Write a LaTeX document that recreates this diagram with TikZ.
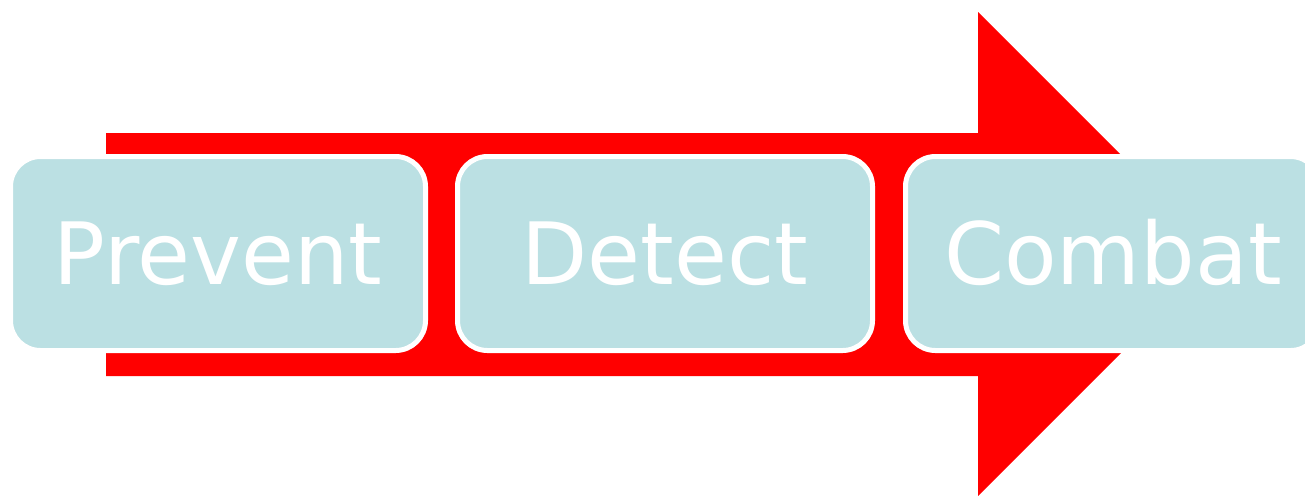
\documentclass[tikz,border=0pt]{standalone}
\usepackage{fontspec}
\setmainfont{DejaVu Sans}
\definecolor{boxfill}{RGB}{187,224,227}
\definecolor{arrowred}{RGB}{255,0,0}
\tikzset{
  stagebox/.style={draw=white, line width=2.5pt, fill=boxfill, rounded corners=15pt,
    minimum width=207.5pt, minimum height=97pt, inner sep=0pt,
    text=white, font=\fontsize{43}{50}\selectfont, text height=31.3pt, text depth=0pt}
}
\begin{document}
\begin{tikzpicture}[x=0.5pt,y=-0.5pt]
\useasboundingbox (0,0) rectangle (1305,495);
\clip (0,0) rectangle (1305,495);
\fill[arrowred] (106,133) -- (978,133) -- (978,12) -- (1220,254) -- (978,496) -- (978,376) -- (106,376) -- cycle;
\node[stagebox] (prevent) at (218,253.5) {Prevent};
\node[stagebox] (detect) at (665,253.5) {Detect};
\node[stagebox] (combat) at (1113,253.5) {Combat};
\end{tikzpicture}
\end{document}
